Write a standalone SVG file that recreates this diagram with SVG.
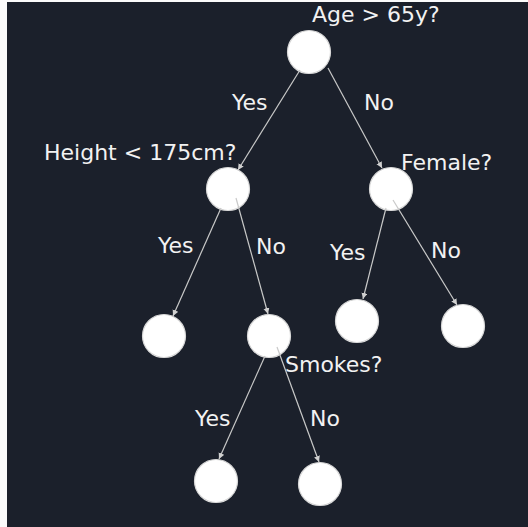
<svg xmlns="http://www.w3.org/2000/svg" width="528" height="527" viewBox="0 0 528 527">
<style>
.bg{fill:#1b202b}
.node{fill:#ffffff;stroke:#d8d8d8;stroke-width:1.2}
.edge{stroke:#c9c9c9;stroke-width:1.2;fill:none;marker-end:url(#ah)}
text{font-family:"DejaVu Sans","Liberation Sans",sans-serif;font-size:22px;fill:#f2f2f2}
</style>
<defs>
<marker id="ah" markerUnits="userSpaceOnUse" markerWidth="8" markerHeight="8" refX="6" refY="3" orient="auto">
<path d="M0,0 L6,3 L0,6 Z" fill="#d0d0d0"/>
</marker>
</defs>
<rect x="0" y="0" width="528" height="527" fill="#fbfbfb"/>
<rect class="bg" x="7" y="2" width="521" height="525"/>
<g id="n-root"><circle class="node" cx="309" cy="52" r="21.5"/><text x="312" y="22">Age &gt; 65y?</text></g>
<g id="n-height"><circle class="node" cx="228" cy="189" r="21.5"/><text x="44" y="160">Height &lt; 175cm?</text></g>
<g id="n-female"><circle class="node" cx="391" cy="189" r="21.5"/><text x="401" y="170">Female?</text></g>
<g id="n-leaf1"><circle class="node" cx="164" cy="336" r="21.5"/></g>
<g id="n-smokes"><circle class="node" cx="269" cy="336" r="21.5"/><text x="285" y="372">Smokes?</text></g>
<g id="n-leaf2"><circle class="node" cx="357" cy="321" r="21.5"/></g>
<g id="n-leaf3"><circle class="node" cx="463" cy="326" r="21.5"/></g>
<g id="n-leaf4"><circle class="node" cx="216" cy="481" r="21.5"/></g>
<g id="n-leaf5"><circle class="node" cx="320" cy="484" r="21.5"/></g>
<g id="connectors">
<line class="edge" x1="300" y1="70" x2="238" y2="170"/>
<line class="edge" x1="328" y1="68" x2="382" y2="168"/>
<line class="edge" x1="221" y1="208" x2="173" y2="316"/>
<line class="edge" x1="236" y1="198" x2="268" y2="314"/>
<line class="edge" x1="386" y1="208" x2="363" y2="299"/>
<line class="edge" x1="393" y1="200" x2="457" y2="305"/>
<line class="edge" x1="265" y1="356" x2="219" y2="459"/>
<line class="edge" x1="277" y1="347" x2="319" y2="462"/>
</g>
<g id="labels">
<text x="232" y="110">Yes</text>
<text x="364" y="110">No</text>
<text x="158" y="253">Yes</text>
<text x="256" y="254">No</text>
<text x="330" y="260">Yes</text>
<text x="431" y="258">No</text>
<text x="195" y="426">Yes</text>
<text x="310" y="426">No</text>
</g>
</svg>
